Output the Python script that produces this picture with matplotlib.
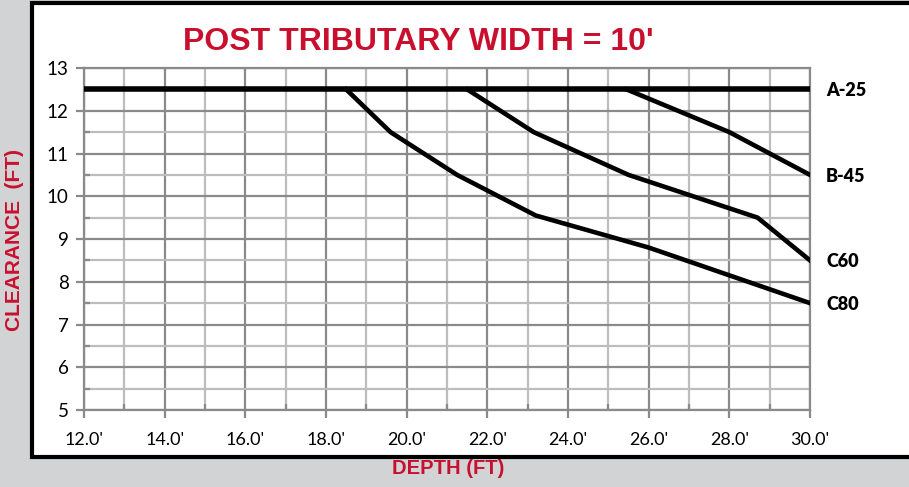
import matplotlib.pyplot as plt
from matplotlib.patches import Rectangle
from matplotlib.ticker import MultipleLocator

# depth (ft) / clearance (ft) for each post
a25_x = [12.0, 30.0]
a25_y = [12.5, 12.5]
b45_x = [25.45, 28.0, 30.0]
b45_y = [12.5, 11.5, 10.5]
c60_x = [21.5, 23.15, 25.5, 28.7, 30.0]
c60_y = [12.5, 11.5, 10.5, 9.5, 8.5]
c80_x = [18.5, 19.6, 21.25, 23.2, 26.0, 30.0]
c80_y = [12.5, 11.5, 10.5, 9.55, 8.8, 7.5]
labels = ['A-25', 'B-45', 'C60', 'C80']

xticks = [12, 14, 16, 18, 20, 22, 24, 26, 28, 30]
xtick_labels = ["12.0'", "14.0'", "16.0'", "18.0'", "20.0'", "22.0'", "24.0'", "26.0'", "28.0'", "30.0'"]

RED = '#c8102e'
W, H = 909, 487

fig = plt.figure(figsize=(W / 100, H / 100), dpi=100, facecolor='#d2d3d5')

# white panel with black frame
fig.patches.append(Rectangle((32 / W, 1 - 457 / H), 900 / W, 454 / H, transform=fig.transFigure,
                             facecolor='white', edgecolor='black', linewidth=3, zorder=-10))

ax = fig.add_axes([84 / W, 1 - 410 / H, (810 - 84) / W, (410 - 68) / H])
ax.set_zorder(1)
ax.set_facecolor('white')
ax.set_xlim(12, 30)
ax.set_ylim(5, 13)

ax.xaxis.set_major_locator(MultipleLocator(2))
ax.xaxis.set_minor_locator(MultipleLocator(1))
ax.yaxis.set_major_locator(MultipleLocator(1))
ax.yaxis.set_minor_locator(MultipleLocator(0.5))
ax.grid(which='major', color='#8a8a8a', linewidth=1.6, zorder=1)
ax.grid(which='minor', color='#bdbdbd', linewidth=1.6, zorder=1)
ax.set_axisbelow(True)
for s in ax.spines.values():
    s.set_color('#8a8a8a')
    s.set_linewidth(1.6)

ax.tick_params(which='major', length=6, width=1.6, color='#8a8a8a', direction='out')
ax.tick_params(which='minor', length=4, width=1.6, color='#8a8a8a', direction='in')
ax.tick_params(axis='x', which='major', pad=10)
ax.tick_params(axis='y', which='major', pad=5)

ax.set_xticks(xticks)
ax.set_xticklabels(xtick_labels, fontsize=13, family='Lato')
for t in ax.get_yticklabels():
    t.set_fontsize(13.5)
    t.set_family('Lato')

ax.plot(a25_x, a25_y, color='black', linewidth=4, solid_capstyle='round', zorder=3)
ax.plot(b45_x, b45_y, color='black', linewidth=3.3, zorder=3)
ax.plot(c60_x, c60_y, color='black', linewidth=3.3, zorder=3)
ax.plot(c80_x, c80_y, color='black', linewidth=3.3, zorder=3)

ends = [a25_y[-1], b45_y[-1], c60_y[-1], c80_y[-1]]
for lab, yv in zip(labels, ends):
    ax.text(30.4, yv, lab, fontsize=13, fontweight='heavy', family='Lato',
            va='center_baseline', ha='left', clip_on=False)

fig.text(418 / W, 1 - 42 / H, "POST TRIBUTARY WIDTH = 10'", color=RED, fontsize=23,
         fontweight='bold', family='Liberation Sans', ha='center', va='center')
fig.text(448 / W, 1 - 469 / H, 'DEPTH (FT)', color=RED, fontsize=14.5,
         fontweight='bold', family='Liberation Sans', ha='center', va='center')
fig.text(15 / W, 1 - 240 / H, 'CLEARANCE  (FT)', color=RED, fontsize=15, rotation=90,
         fontweight='bold', family='Liberation Sans', ha='center', va='center')

fig.savefig('out.png', dpi=100, facecolor=fig.get_facecolor())
